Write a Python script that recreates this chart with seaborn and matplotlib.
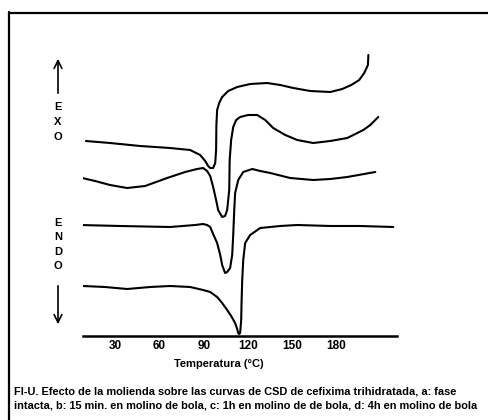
import matplotlib
matplotlib.use("Agg")
import matplotlib.pyplot as plt
import pandas as pd
import seaborn as sns
from matplotlib.lines import Line2D

sns.set_theme(style="white")
plt.rcParams['font.family'] = ['Liberation Sans', 'DejaVu Sans']
plt.rcParams['text.color'] = 'black'
plt.rcParams['axes.labelcolor'] = 'black'
plt.rcParams['xtick.color'] = 'black'

# ---- data (temperature in °C, heat flow in arbitrary stacked units) ----
temp_a = [10.2, 26.5, 46.9, 67.2, 80.8, 87.6, 91.0, 93.0, 94.4, 96.4, 97.8, 98.4,
          98.6, 99.1, 100.5, 102.5, 106.6, 112.7, 121.5, 133.0, 141.9, 150.7,
          162.2, 175.8, 183.9, 190.0, 195.4, 198.8, 201.3, 201.6]
flow_a = [19.5, 19.3, 19.0, 18.8, 18.6, 18.1, 17.5, 17.0, 16.8, 16.8, 17.3, 18.6,
          21.1, 22.6, 23.3, 23.9, 24.5, 24.9, 25.2, 25.3, 25.1, 24.8,
          24.5, 24.4, 24.7, 25.1, 25.6, 26.3, 27.1, 28.1]

temp_b = [4.8, 16.4, 26.5, 38.1, 50.3, 65.2, 77.4, 85.5, 89.6, 92.3, 94.4, 96.4,
          98.4, 99.8, 102.5, 104.5, 105.9, 107.3, 107.6, 108.6, 110.0, 112.0,
          114.7, 120.1, 126.3, 131.7, 137.1, 145.3, 153.4, 164.2, 175.8, 187.3,
          198.2, 202.9, 208.3]
flow_b = [15.9, 15.5, 15.1, 14.8, 15.0, 15.8, 16.4, 16.7, 16.8, 16.5, 16.0, 14.9,
          13.6, 12.6, 11.9, 12.0, 12.6, 14.6, 17.6, 19.6, 20.9, 21.6,
          21.9, 22.1, 22.1, 21.6, 20.8, 20.1, 19.6, 19.3, 19.5, 19.8,
          20.6, 21.1, 21.9]

temp_c = [6.2, 33.3, 67.2, 84.2, 89.6, 92.3, 94.4, 96.4, 99.1, 101.2, 102.5, 104.5,
          105.9, 107.9, 109.3, 110.0, 110.7, 111.3, 113.4, 116.8, 122.9, 128.3,
          135.1, 148.6, 164.2, 175.8, 187.3, 206.3]
flow_c = [11.1, 11.0, 10.9, 11.1, 11.2, 11.1, 10.9, 10.2, 9.3, 8.1, 7.1, 6.3,
          6.4, 6.8, 8.1, 10.1, 12.6, 14.3, 15.6, 16.4, 16.7, 16.5,
          16.3, 15.8, 15.6, 15.7, 15.9, 16.4]

temp_d = [8.2, 23.1, 38.1, 53.7, 67.2, 80.8, 89.6, 94.4, 99.1, 102.5, 105.9, 108.6,
          111.3, 112.7, 113.4, 114.0, 114.7, 115.4, 115.7, 116.1, 116.8, 118.1,
          121.5, 128.3, 141.9, 153.4, 175.8, 196.1, 218.5]
flow_d = [5.0, 4.9, 4.7, 4.9, 5.0, 4.9, 4.6, 4.4, 3.9, 3.3, 2.6, 2.0,
          1.3, 0.7, 0.3, 0.2, 0.3, 1.6, 3.6, 5.6, 7.6, 9.3,
          10.1, 10.8, 11.0, 11.1, 11.0, 11.0, 10.9]

curve_names = ["a", "b", "c", "d"]
xtick_values = [30, 60, 90, 120, 150, 180]
x_label = "Temperatura (°C)"
exo_label = ["E", "X", "O"]
endo_label = ["E", "N", "D", "O"]
caption_lines = [
    "FI-U. Efecto de la molienda sobre las curvas de CSD de cefixima trihidratada, a: fase",
    "intacta, b: 15 min. en molino de bola, c: 1h en molino de de bola, d: 4h en molino de bola",
]

# ---- figure ----
W, H = 489, 420
fig = plt.figure(figsize=(W / 100, H / 100), dpi=100)
fig.patch.set_facecolor("white")

def fx(px):
    return px / W

def fy(py):
    return 1 - py / H

ax = fig.add_axes([fx(83), fy(336), fx(397) - fx(83), fy(13) - fy(336)])
ax.set_facecolor("none")

frames = []
for name, t, q in zip(curve_names, [temp_a, temp_b, temp_c, temp_d],
                      [flow_a, flow_b, flow_c, flow_d]):
    frames.append(pd.DataFrame({"T": t, "q": q, "curve": name}))
df = pd.concat(frames, ignore_index=True)

for name in curve_names:
    sub = df[df["curve"] == name]
    sns.lineplot(data=sub, x="T", y="q", sort=False, estimator=None,
                 color="black", linewidth=1.5, ax=ax, legend=False)

ax.set_xlim(8.2, 221.0)
ax.set_ylim(0, 32.3)
for s in ["top", "left", "right"]:
    ax.spines[s].set_visible(False)
ax.spines["bottom"].set_color("black")
ax.spines["bottom"].set_linewidth(1.8)
ax.set_yticks([])
ax.set_xticks(xtick_values)
ax.set_xticklabels([str(v) for v in xtick_values], fontsize=8.5, fontweight="bold")
ax.tick_params(axis="x", length=0, pad=3, colors="black")
ax.set_xlabel(x_label, fontsize=8, fontweight="bold")
ax.xaxis.set_label_coords((219 - 83) / (397 - 83), -(359 - 336) / (336 - 13))
ax.set_ylabel("")

# frame lines of the scanned page
fig.add_artist(Line2D([fx(9), 1.0], [fy(13), fy(13)], color="black", lw=1.6))
fig.add_artist(Line2D([fx(9), fx(9)], [fy(12), 0.0], color="black", lw=1.6))

# EXO arrow + letters
ax.annotate("", xy=(fx(58), fy(56)), xytext=(fx(58), fy(96)),
            xycoords="figure fraction", textcoords="figure fraction",
            arrowprops=dict(arrowstyle="->", lw=1.2, color="black", mutation_scale=14))
for i, ch in enumerate(exo_label):
    fig.text(fx(58), fy(107 + 15 * i), ch, ha="center", va="center",
             fontsize=8, fontweight="bold", color="black")

# ENDO letters + arrow
for i, ch in enumerate(endo_label):
    fig.text(fx(58), fy(223 + 14.3 * i), ch, ha="center", va="center",
             fontsize=8, fontweight="bold", color="black")
ax.annotate("", xy=(fx(58), fy(327)), xytext=(fx(58), fy(283)),
            xycoords="figure fraction", textcoords="figure fraction",
            arrowprops=dict(arrowstyle="->", lw=1.2, color="black", mutation_scale=14))

# caption
for i, line in enumerate(caption_lines):
    fig.text(fx(14), fy(391 + 14 * i), line, ha="left", va="center",
             fontsize=7.9, fontweight="bold", color="black")

fig.savefig("out.png", dpi=100, facecolor="white")
